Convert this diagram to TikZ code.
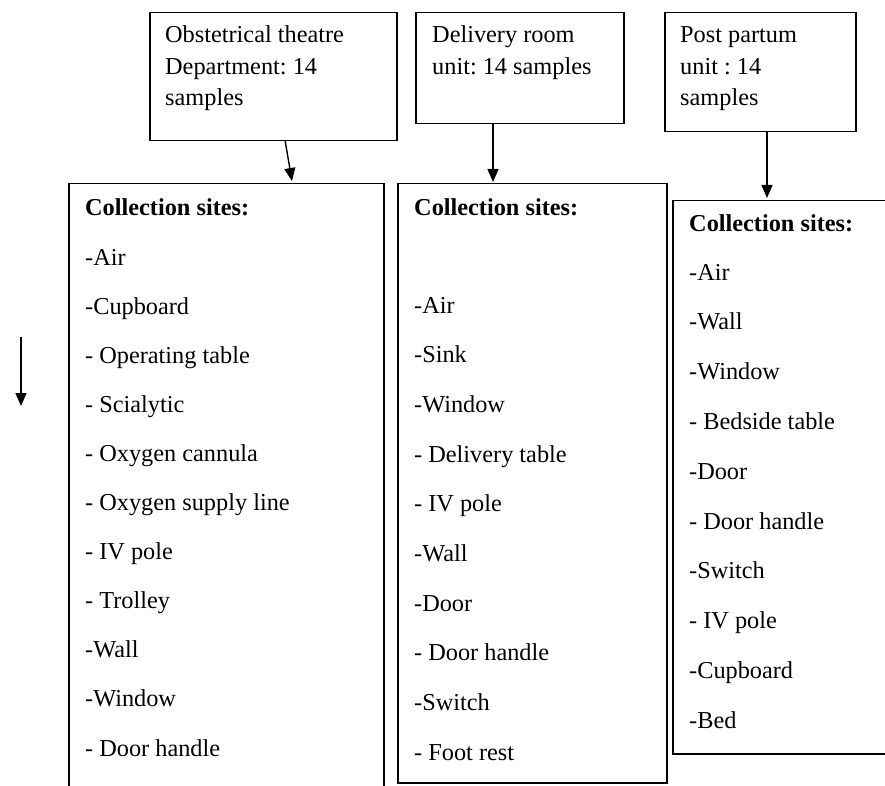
\documentclass[tikz,border=0pt]{standalone}
\usepackage{fontspec}
\setmainfont{Liberation Serif}
\usetikzlibrary{arrows.meta}
\frenchspacing
\begin{document}
\begin{tikzpicture}[x=1pt,y=-1pt,
  box/.style={draw, line width=1.5pt, inner sep=0pt, anchor=north west},
  txt/.style={anchor=base west, inner sep=0pt, font=\fontsize{24.3}{29}\selectfont},
  head/.style={anchor=base west, inner sep=0pt, font=\fontsize{24.3}{29}\selectfont\bfseries},
  arr/.style={-{Triangle[length=13pt,width=11pt]}, line width=1.4pt}]
\useasboundingbox (0,0) rectangle (885,786);
\clip (0,0) rectangle (885,786);
\fill[white] (0,0) rectangle (885,786);

% top boxes
\node[box, minimum width=247pt, minimum height=128pt] (top1) at (149,12) {};
\node[box, minimum width=208pt, minimum height=111pt] (top2) at (415,12) {};
\node[box, minimum width=191pt, minimum height=119pt] (top3) at (664,12) {};

\node[txt] (t1a) at (165,43) {Obstetrical theatre};
\node[txt] (t1b) at (165,75) {Department: 14};
\node[txt] (t1c) at (165,106) {samples};

\node[txt] (t2a) at (432,43) {Delivery room};
\node[txt] (t2b) at (432,75) {unit: 14 samples};

\node[txt] (t3a) at (680,43) {Post partum};
\node[txt] (t3b) at (680,75) {unit : 14};
\node[txt] (t3c) at (680,106) {samples};

% main boxes
\node[box, minimum width=315pt, minimum height=640pt] (main1) at (68,183) {};
\node[box, minimum width=269pt, minimum height=599pt] (main2) at (397,183) {};
\node[box, minimum width=240pt, minimum height=553pt] (main3) at (672,200) {};

% arrows
\coordinate (s1) at (285,140);
\coordinate (e1) at (292,181);
\draw[arr] (s1) -- (e1);
\coordinate (s2) at (493,123);
\coordinate (e2) at (493,182);
\draw[arr] (s2) -- (e2);
\coordinate (s3) at (767,131);
\coordinate (e3) at (767,198);
\draw[arr] (s3) -- (e3);
\coordinate (ls) at (21,337);
\coordinate (le) at (21,406);
\draw[arr] (ls) -- (le);

% lists
\node[head] (h1) at (85,215) {Collection sites:};
\foreach \t [count=\i] in {-Air,-Cupboard,- Operating table,- Scialytic,- Oxygen cannula,- Oxygen supply line,- IV pole,- Trolley,-Wall,-Window,- Door handle}
  \node[txt] (a\i) at (85,{265+49.1*(\i-1)}) {\t};

\node[head] (h2) at (414,215) {Collection sites:};
\foreach \t [count=\i] in {-Air,-Sink,-Window,- Delivery table,- IV pole,-Wall,-Door,- Door handle,-Switch,- Foot rest}
  \node[txt] (b\i) at (414,{313+49.7*(\i-1)}) {\t};

\node[head] (h3) at (689,232) {Collection sites:};
\foreach \t [count=\i] in {-Air,-Wall,-Window,- Bedside table,-Door,- Door handle,-Switch,- IV pole,-Cupboard,-Bed}
  \node[txt] (c\i) at (689,{280+49.8*(\i-1)}) {\t};
\end{tikzpicture}
\end{document}
